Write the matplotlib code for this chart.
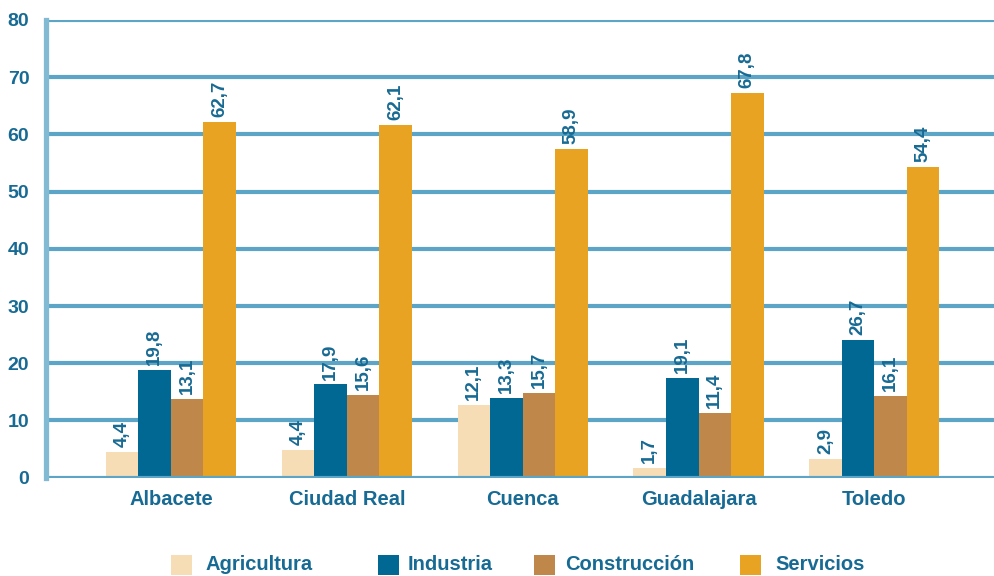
import matplotlib
matplotlib.use("Agg")
import matplotlib.pyplot as plt
import numpy as np
from matplotlib.patches import Rectangle

plt.rcParams['font.family'] = ['Liberation Sans', 'DejaVu Sans']

categories = ["Albacete", "Ciudad Real", "Cuenca", "Guadalajara", "Toledo"]
series_names = ["Agricultura", "Industria", "Construcción", "Servicios"]

# bar heights as drawn in the reference
agricultura = [4.5, 4.8, 12.7, 1.7, 3.3]
industria = [18.8, 16.3, 13.9, 17.4, 24.1]
construccion = [13.7, 14.5, 14.8, 11.3, 14.3]
servicios = [62.2, 61.6, 57.5, 67.3, 54.3]

# data labels as printed in the reference
lab_agricultura = ["4,4", "4,4", "12,1", "1,7", "2,9"]
lab_industria = ["19,8", "17,9", "13,3", "19,1", "26,7"]
lab_construccion = ["13,1", "15,6", "15,7", "11,4", "16,1"]
lab_servicios = ["62,7", "62,1", "58,9", "67,8", "54,4"]

yticks = [0, 10, 20, 30, 40, 50, 60, 70, 80]

colors = ["#f7ddb5", "#006892", "#c0874b", "#e8a323"]
text_color = "#176a93"
grid_color = "#5ca5c7"
spine_color = "#82b9d3"

W, H = 994, 576
fig = plt.figure(figsize=(W / 100, H / 100), dpi=100)
ax = fig.add_axes([46 / W, 1 - 477.7 / H, (W - 46) / W, (477.7 - 20) / H])

x = np.arange(len(categories))
bw = 0.185
values = [agricultura, industria, construccion, servicios]
labels = [lab_agricultura, lab_industria, lab_construccion, lab_servicios]
for i, (vals, labs, c) in enumerate(zip(values, labels, colors)):
    pos = x + (i - 1.5) * bw
    ax.bar(pos, vals, width=bw, color=c, zorder=2, linewidth=0)
    for p, v, l in zip(pos, vals, labs):
        ax.annotate(l, (p, v), xytext=(0, 3.5), textcoords="offset points",
                    rotation=90, ha="center", va="bottom", fontsize=13.5,
                    fontweight="bold", color=text_color)

ax.set_ylim(0, 80)
ax.set_xlim(-0.71, 4.68)
ax.set_yticks(yticks)
ax.set_yticklabels([str(t) for t in yticks], fontsize=14, fontweight="bold", color=text_color)
ax.set_xticks(x)
ax.set_xticklabels(categories, fontsize=14.5, fontweight="bold", color=text_color)
ax.tick_params(axis="both", length=0)
ax.tick_params(axis="y", pad=12)
ax.tick_params(axis="x", pad=9)

for t in yticks:
    ax.axhline(t, color=grid_color, linewidth=3.0, zorder=1 if t > 0 else 3)

for s in ["top", "right", "bottom"]:
    ax.spines[s].set_visible(False)
ax.spines["left"].set_color(spine_color)
ax.spines["left"].set_linewidth(3.8)
ax.spines["left"].set_zorder(4)

# legend
leg_sq = [171, 378, 534, 740]
leg_tx = [205, 408, 565, 775]
for sx, tx, c, name in zip(leg_sq, leg_tx, colors, series_names):
    fig.patches.append(Rectangle((sx / W, 1 - 575 / H), 21 / W, 20 / H,
                                 transform=fig.transFigure, color=c, linewidth=0))
    fig.text(tx / W, 1 - 565 / H, name, fontsize=14.5, fontweight="bold",
             color=text_color, ha="left", va="center")

fig.savefig("out.png", dpi=100)
